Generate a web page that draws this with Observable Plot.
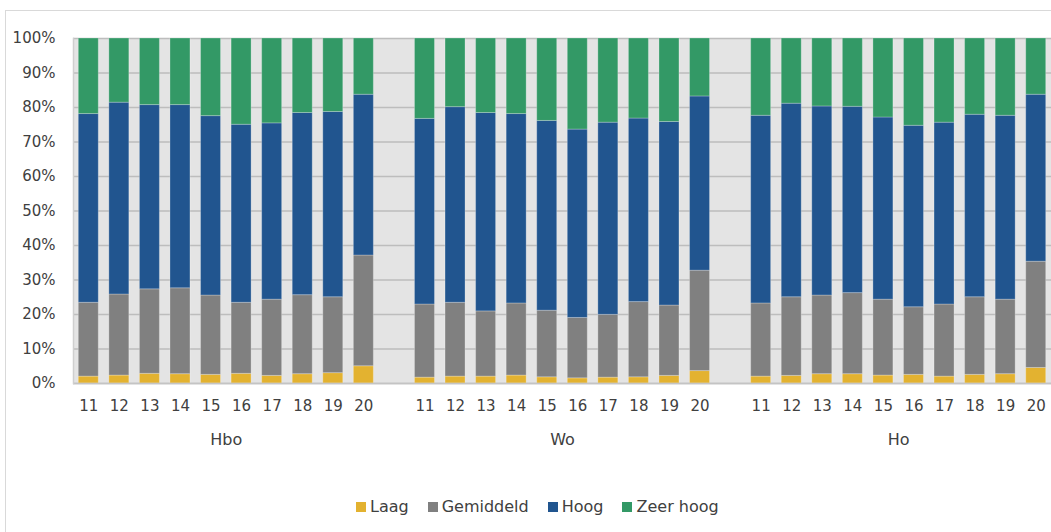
<!DOCTYPE html>
<html>
<head>
<meta charset="utf-8">
<script src="https://cdn.jsdelivr.net/npm/d3@7"></script>
<script src="https://cdn.jsdelivr.net/npm/@observablehq/plot@0.6"></script>
<style>
  html, body { margin: 0; padding: 0; background: #fff; overflow: hidden; width: 1051px; height: 532px; }
  #wrap { position: relative; width: 1051px; height: 532px; }
  #border { position: absolute; left: 5px; top: 10px; width: 1200px; height: 700px; border: 1px solid #d9d9d9; box-sizing: border-box; }
  #chart { position: absolute; left: 0; top: 0; }
  #legend { position: absolute; top: 497px; left: 356px; display: flex; align-items: center; font-family: "DejaVu Sans", sans-serif; font-size: 16px; color: #404040; }
  #legend .item { display: flex; align-items: center; margin-right: 19px; }
  #legend .sw { width: 10px; height: 10px; margin-right: 4px; }
</style>
</head>
<body>
<div id="wrap">
  <div id="border"></div>
  <div id="chart"></div>
  <div id="legend"></div>
</div>
<script>
const groups = ["Hbo", "Wo", "Ho"];
const years = ["11", "12", "13", "14", "15", "16", "17", "18", "19", "20"];
const levels = ["Laag", "Gemiddeld", "Hoog", "Zeer hoog"];
const colors = ["#E3B230", "#808080", "#21558F", "#339966"];

// percentages per level, years 11..20
const hboLaag      = [2.0, 2.3, 2.8, 2.7, 2.5, 2.8, 2.2, 2.7, 3.0, 5.0];
const hboGemiddeld = [21.4, 23.5, 24.5, 24.9, 23.0, 20.6, 22.1, 22.9, 22.0, 32.1];
const hboHoog      = [54.7, 55.6, 53.4, 53.1, 52.0, 51.6, 51.1, 52.8, 53.7, 46.6];
const hboZeerHoog  = [21.9, 18.6, 19.3, 19.3, 22.5, 25.0, 24.6, 21.6, 21.3, 16.3];

const woLaag       = [1.7, 2.0, 2.0, 2.3, 1.8, 1.5, 1.7, 1.8, 2.2, 3.6];
const woGemiddeld  = [21.2, 21.4, 18.9, 20.9, 19.3, 17.5, 18.2, 21.8, 20.4, 29.1];
const woHoog       = [53.8, 56.7, 57.5, 54.9, 55.0, 54.6, 55.7, 53.2, 53.2, 50.5];
const woZeerHoog   = [23.3, 19.9, 21.6, 21.9, 23.9, 26.4, 24.4, 23.2, 24.2, 16.8];

const hoLaag       = [2.0, 2.2, 2.7, 2.7, 2.3, 2.5, 2.0, 2.5, 2.7, 4.5];
const hoGemiddeld  = [21.2, 22.8, 22.8, 23.5, 22.0, 19.6, 20.9, 22.5, 21.6, 30.8];
const hoHoog       = [54.4, 56.1, 54.8, 54.0, 52.8, 52.6, 52.7, 52.9, 53.3, 48.4];
const hoZeerHoog   = [22.4, 18.9, 19.7, 19.8, 22.9, 25.3, 24.4, 22.1, 22.4, 16.3];

const series = {
  Hbo: [hboLaag, hboGemiddeld, hboHoog, hboZeerHoog],
  Wo:  [woLaag, woGemiddeld, woHoog, woZeerHoog],
  Ho:  [hoLaag, hoGemiddeld, hoHoog, hoZeerHoog]
};

const rows = [];
groups.forEach(g => {
  years.forEach((yr, i) => {
    levels.forEach((lv, j) => {
      rows.push({key: g + "-" + yr, group: g, year: yr, level: lv, value: series[g][j][i]});
    });
  });
});

const domain = [];
groups.forEach((g, gi) => {
  years.forEach(yr => domain.push(g + "-" + yr));
  if (gi < groups.length - 1) domain.push("gap" + gi);
});
const tickKeys = domain.filter(d => !d.startsWith("gap"));

const W = 1051, H = 470;
const marginLeft = 73, marginRight = 0, marginTop = 38, marginBottom = 87;
const step = (W - marginLeft - marginRight) / domain.length;

const chart = Plot.plot({
  width: W,
  height: H,
  marginLeft, marginRight, marginTop, marginBottom,
  style: {fontFamily: "DejaVu Sans, sans-serif", fontSize: "14px", color: "#404040", background: "transparent"},
  x: {domain, paddingInner: 0.346, paddingOuter: 0.173, round: false, axis: null, label: null},
  y: {domain: [0, 1], axis: null, label: null},
  color: {domain: levels, range: colors},
  marks: [
    Plot.frame({fill: "#e4e4e4", stroke: null}),
    Plot.gridY(d3.range(0, 11).map(d => d / 10), {stroke: "#bdbdbd", strokeOpacity: 1, strokeWidth: 1.5}),
    Plot.barY(rows, {x: "key", y: "value", fill: "level", offset: "normalize", stroke: "#ffffff", strokeOpacity: 0.25, strokeWidth: 1}),
    Plot.ruleY([0], {stroke: "#c4c4c4", strokeWidth: 1.5}),
    Plot.frame({anchor: "left", stroke: "#cfcfcf", strokeWidth: 1.5}),
    Plot.axisY(d3.range(0, 11).map(d => d / 10), {tickFormat: d3.format(".0%"), tickSize: 0, tickPadding: 18, fontSize: 15, fill: "#404040", label: null}),
    Plot.axisX(tickKeys, {tickFormat: d => d.split("-")[1], tickSize: 0, tickPadding: 17, fontSize: 15, fill: "#404040", label: null}),
    Plot.text(groups, {x: g => g + "-15", text: d => d, dx: step / 2, frameAnchor: "bottom", dy: 61, fontSize: 16, fill: "#404040"})
  ]
});
document.getElementById("chart").appendChild(chart);

const legend = document.getElementById("legend");
levels.forEach((lv, i) => {
  const item = document.createElement("div");
  item.className = "item";
  const sw = document.createElement("div");
  sw.className = "sw";
  sw.style.background = colors[i];
  const t = document.createElement("span");
  t.textContent = lv;
  item.appendChild(sw);
  item.appendChild(t);
  legend.appendChild(item);
});
</script>
</body>
</html>
